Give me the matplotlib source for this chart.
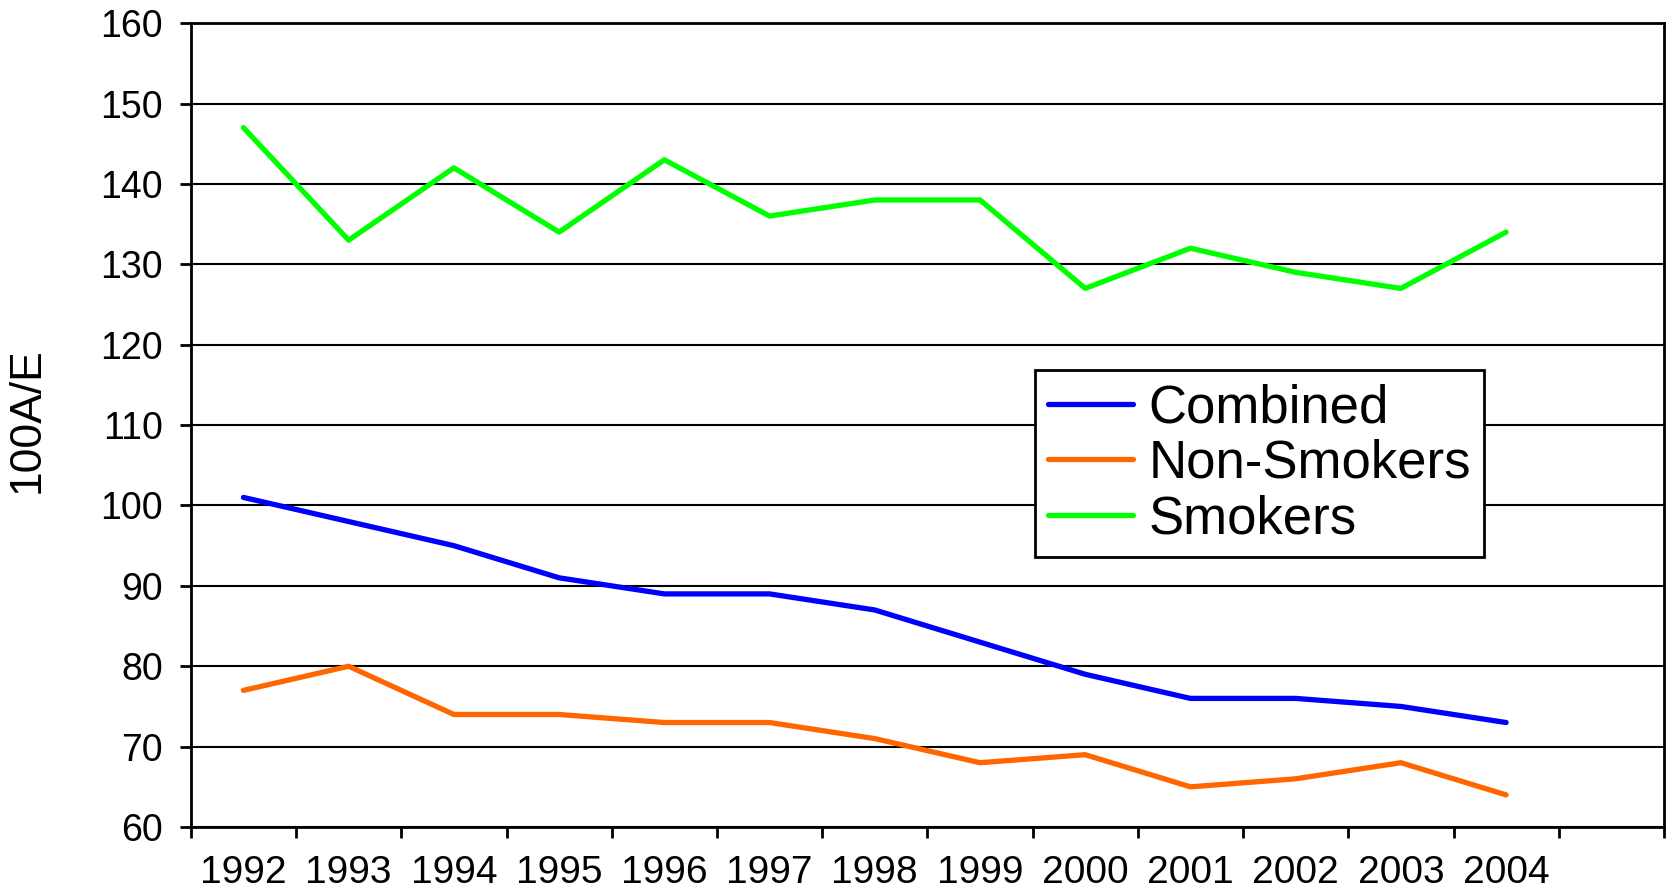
import matplotlib
matplotlib.use("Agg")
import matplotlib.pyplot as plt
import numpy as np

plt.rcParams['font.family'] = ['Liberation Sans', 'DejaVu Sans']

years = ['1992', '1993', '1994', '1995', '1996', '1997', '1998',
         '1999', '2000', '2001', '2002', '2003', '2004']
combined = [101, 98, 95, 91, 89, 89, 87, 83, 79, 76, 76, 75, 73]
non_smokers = [77, 80, 74, 74, 73, 73, 71, 68, 69, 65, 66, 68, 64]
smokers = [147, 133, 142, 134, 143, 136, 138, 138, 127, 132, 129, 127, 134]

series_names = ['Combined', 'Non-Smokers', 'Smokers']
series_colors = ['#0000FF', '#FF6600', '#00FF00']

# one spare category slot after the last year
n_slots = len(years) + 1

fig = plt.figure(figsize=(16.74, 8.89), dpi=100)
ax = fig.add_axes([0.114, 0.0697, 0.880, 0.9043])

x = np.arange(len(years)) + 0.5
for vals, name, col in zip([combined, non_smokers, smokers], series_names, series_colors):
    ax.plot(x, vals, color=col, lw=3.8, label=name, solid_capstyle='round',
            solid_joinstyle='round')

ax.set_xlim(0, n_slots)
ax.set_ylim(60, 160)
ax.set_yticks(np.arange(60, 161, 10))
ax.yaxis.grid(True, color='black', lw=1.5)
ax.set_axisbelow(True)

# category boundaries carry the tick marks, year labels sit between them
ax.set_xticks(np.arange(0, n_slots + 1))
ax.set_xticklabels([])
ax.set_xticks(x, minor=True)
ax.set_xticklabels(years, minor=True)
ax.tick_params(axis='x', which='major', direction='out', length=8, width=2)
ax.tick_params(axis='x', which='minor', length=0, pad=20, labelsize=28)
ax.tick_params(axis='y', direction='out', length=8, width=2, pad=12, labelsize=27)

for sp in ax.spines.values():
    sp.set_linewidth(2)
    sp.set_color('black')

ax.set_ylabel('100A/E', fontsize=32)
ax.yaxis.set_label_coords(-0.097, 0.506)

leg = ax.legend(loc='upper left', bbox_to_anchor=(0.573, 0.568), borderaxespad=0,
                fontsize=38, frameon=True, fancybox=False, framealpha=1,
                edgecolor='black', handlelength=1.6, handletextpad=0.3,
                borderpad=0.25, labelspacing=0.1)
leg.get_frame().set_linewidth(2)

fig.savefig('out.png', dpi=100, facecolor='white')
